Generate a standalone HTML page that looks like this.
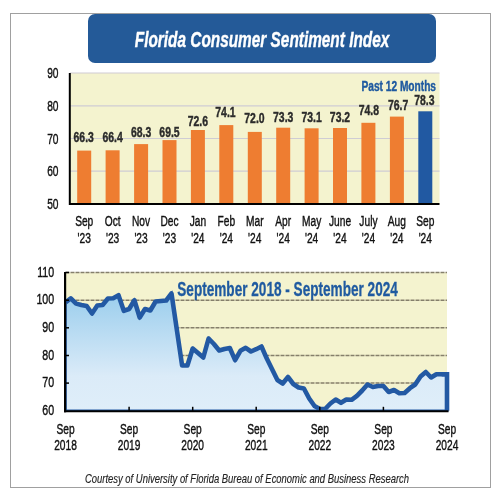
<!DOCTYPE html>
<html><head><meta charset="utf-8"><style>
html,body{margin:0;padding:0;background:#fff;width:500px;height:500px;overflow:hidden}
svg{display:block;will-change:transform}
text{font-family:"Liberation Sans",sans-serif}
</style></head><body>
<svg width="500" height="500" viewBox="0 0 500 500">
<defs>
<linearGradient id="ag" x1="0" y1="272.5" x2="0" y2="410.8" gradientUnits="userSpaceOnUse">
<stop offset="0" stop-color="#8ac6ea"/><stop offset="0.75" stop-color="#dbebf8"/><stop offset="1" stop-color="#dfeef9"/>
</linearGradient>
</defs>
<rect x="10.5" y="13.5" width="480" height="474" fill="#fff" stroke="#a0a0a0" stroke-width="1"/>
<rect x="88" y="14" width="348" height="49" rx="7" ry="7" fill="#245a98"/>
<text x="134.8" y="46.5" font-size="22" font-weight="bold" font-style="italic" fill="#fff" stroke="#fff" stroke-width="0.4" textLength="254.5" lengthAdjust="spacingAndGlyphs">Florida Consumer Sentiment Index</text>
<!-- top chart -->
<rect x="70.0" y="73.0" width="369.5" height="131.0" fill="#f4f3cf"/>
<line x1="70.0" x2="439.5" y1="73.0" y2="73.0" stroke="#cfccd4" stroke-width="1.2"/><line x1="70.0" x2="439.5" y1="105.8" y2="105.8" stroke="#cfccd4" stroke-width="1.2"/><line x1="70.0" x2="439.5" y1="138.5" y2="138.5" stroke="#cfccd4" stroke-width="1.2"/><line x1="70.0" x2="439.5" y1="171.2" y2="171.2" stroke="#cfccd4" stroke-width="1.2"/>
<rect x="77.2" y="150.6" width="14" height="53.4" fill="#ee7d31"/><rect x="105.6" y="150.3" width="14" height="53.7" fill="#ee7d31"/><rect x="134.1" y="144.1" width="14" height="59.9" fill="#ee7d31"/><rect x="162.5" y="140.1" width="14" height="63.9" fill="#ee7d31"/><rect x="190.9" y="130.0" width="14" height="74.0" fill="#ee7d31"/><rect x="219.3" y="125.1" width="14" height="78.9" fill="#ee7d31"/><rect x="247.8" y="131.9" width="14" height="72.1" fill="#ee7d31"/><rect x="276.2" y="127.7" width="14" height="76.3" fill="#ee7d31"/><rect x="304.6" y="128.3" width="14" height="75.7" fill="#ee7d31"/><rect x="333.0" y="128.0" width="14" height="76.0" fill="#ee7d31"/><rect x="361.4" y="122.8" width="14" height="81.2" fill="#ee7d31"/><rect x="389.9" y="116.6" width="14" height="87.4" fill="#ee7d31"/><rect x="418.3" y="111.3" width="14" height="92.7" fill="#2159a2"/>
<line x1="69.8" y1="73.0" x2="69.8" y2="205.0" stroke="#000" stroke-width="2"/>
<line x1="69" y1="204.0" x2="439.5" y2="204.0" stroke="#000" stroke-width="2"/>
<text transform="translate(58.50,78.10) scale(0.69,1)" font-size="14.8" font-weight="normal" font-style="normal" fill="#111" stroke="#111" stroke-width="0.4" text-anchor="end">90</text><text transform="translate(58.50,110.85) scale(0.69,1)" font-size="14.8" font-weight="normal" font-style="normal" fill="#111" stroke="#111" stroke-width="0.4" text-anchor="end">80</text><text transform="translate(58.50,143.60) scale(0.69,1)" font-size="14.8" font-weight="normal" font-style="normal" fill="#111" stroke="#111" stroke-width="0.4" text-anchor="end">70</text><text transform="translate(58.50,176.35) scale(0.69,1)" font-size="14.8" font-weight="normal" font-style="normal" fill="#111" stroke="#111" stroke-width="0.4" text-anchor="end">60</text><text transform="translate(58.50,209.10) scale(0.69,1)" font-size="14.8" font-weight="normal" font-style="normal" fill="#111" stroke="#111" stroke-width="0.4" text-anchor="end">50</text>
<text transform="translate(83.71,142.20) scale(0.72,1)" font-size="14.5" font-weight="bold" font-style="normal" fill="#2b2b2b" stroke="#2b2b2b" stroke-width="0.4" text-anchor="middle">66.3</text><text transform="translate(112.63,142.00) scale(0.72,1)" font-size="14.5" font-weight="bold" font-style="normal" fill="#2b2b2b" stroke="#2b2b2b" stroke-width="0.4" text-anchor="middle">66.4</text><text transform="translate(141.06,136.60) scale(0.72,1)" font-size="14.5" font-weight="bold" font-style="normal" fill="#2b2b2b" stroke="#2b2b2b" stroke-width="0.4" text-anchor="middle">68.3</text><text transform="translate(169.48,136.60) scale(0.72,1)" font-size="14.5" font-weight="bold" font-style="normal" fill="#2b2b2b" stroke="#2b2b2b" stroke-width="0.4" text-anchor="middle">69.5</text><text transform="translate(197.90,126.40) scale(0.72,1)" font-size="14.5" font-weight="bold" font-style="normal" fill="#2b2b2b" stroke="#2b2b2b" stroke-width="0.4" text-anchor="middle">72.6</text><text transform="translate(225.43,117.00) scale(0.72,1)" font-size="14.5" font-weight="bold" font-style="normal" fill="#2b2b2b" stroke="#2b2b2b" stroke-width="0.4" text-anchor="middle">74.1</text><text transform="translate(254.45,123.20) scale(0.72,1)" font-size="14.5" font-weight="bold" font-style="normal" fill="#2b2b2b" stroke="#2b2b2b" stroke-width="0.4" text-anchor="middle">72.0</text><text transform="translate(283.17,122.00) scale(0.72,1)" font-size="14.5" font-weight="bold" font-style="normal" fill="#2b2b2b" stroke="#2b2b2b" stroke-width="0.4" text-anchor="middle">73.3</text><text transform="translate(311.60,122.00) scale(0.72,1)" font-size="14.5" font-weight="bold" font-style="normal" fill="#2b2b2b" stroke="#2b2b2b" stroke-width="0.4" text-anchor="middle">73.1</text><text transform="translate(340.02,121.50) scale(0.72,1)" font-size="14.5" font-weight="bold" font-style="normal" fill="#2b2b2b" stroke="#2b2b2b" stroke-width="0.4" text-anchor="middle">73.2</text><text transform="translate(368.84,115.40) scale(0.72,1)" font-size="14.5" font-weight="bold" font-style="normal" fill="#2b2b2b" stroke="#2b2b2b" stroke-width="0.4" text-anchor="middle">74.8</text><text transform="translate(398.07,109.80) scale(0.72,1)" font-size="14.5" font-weight="bold" font-style="normal" fill="#2b2b2b" stroke="#2b2b2b" stroke-width="0.4" text-anchor="middle">76.7</text><text transform="translate(424.39,104.70) scale(0.72,1)" font-size="14.5" font-weight="bold" font-style="normal" fill="#2b2b2b" stroke="#2b2b2b" stroke-width="0.4" text-anchor="middle">78.3</text>
<text transform="translate(84.21,225.80) scale(0.69,1)" font-size="14.8" font-weight="normal" font-style="normal" fill="#111" stroke="#111" stroke-width="0.4" text-anchor="middle">Sep</text><text transform="translate(84.21,242.80) scale(0.69,1)" font-size="14.8" font-weight="normal" font-style="normal" fill="#111" stroke="#111" stroke-width="0.4" text-anchor="middle">'23</text><text transform="translate(112.63,225.80) scale(0.69,1)" font-size="14.8" font-weight="normal" font-style="normal" fill="#111" stroke="#111" stroke-width="0.4" text-anchor="middle">Oct</text><text transform="translate(112.63,242.80) scale(0.69,1)" font-size="14.8" font-weight="normal" font-style="normal" fill="#111" stroke="#111" stroke-width="0.4" text-anchor="middle">'23</text><text transform="translate(141.06,225.80) scale(0.69,1)" font-size="14.8" font-weight="normal" font-style="normal" fill="#111" stroke="#111" stroke-width="0.4" text-anchor="middle">Nov</text><text transform="translate(141.06,242.80) scale(0.69,1)" font-size="14.8" font-weight="normal" font-style="normal" fill="#111" stroke="#111" stroke-width="0.4" text-anchor="middle">'23</text><text transform="translate(169.48,225.80) scale(0.69,1)" font-size="14.8" font-weight="normal" font-style="normal" fill="#111" stroke="#111" stroke-width="0.4" text-anchor="middle">Dec</text><text transform="translate(169.48,242.80) scale(0.69,1)" font-size="14.8" font-weight="normal" font-style="normal" fill="#111" stroke="#111" stroke-width="0.4" text-anchor="middle">'23</text><text transform="translate(197.90,225.80) scale(0.69,1)" font-size="14.8" font-weight="normal" font-style="normal" fill="#111" stroke="#111" stroke-width="0.4" text-anchor="middle">Jan</text><text transform="translate(197.90,242.80) scale(0.69,1)" font-size="14.8" font-weight="normal" font-style="normal" fill="#111" stroke="#111" stroke-width="0.4" text-anchor="middle">'24</text><text transform="translate(226.33,225.80) scale(0.69,1)" font-size="14.8" font-weight="normal" font-style="normal" fill="#111" stroke="#111" stroke-width="0.4" text-anchor="middle">Feb</text><text transform="translate(226.33,242.80) scale(0.69,1)" font-size="14.8" font-weight="normal" font-style="normal" fill="#111" stroke="#111" stroke-width="0.4" text-anchor="middle">'24</text><text transform="translate(254.75,225.80) scale(0.69,1)" font-size="14.8" font-weight="normal" font-style="normal" fill="#111" stroke="#111" stroke-width="0.4" text-anchor="middle">Mar</text><text transform="translate(254.75,242.80) scale(0.69,1)" font-size="14.8" font-weight="normal" font-style="normal" fill="#111" stroke="#111" stroke-width="0.4" text-anchor="middle">'24</text><text transform="translate(283.17,225.80) scale(0.69,1)" font-size="14.8" font-weight="normal" font-style="normal" fill="#111" stroke="#111" stroke-width="0.4" text-anchor="middle">Apr</text><text transform="translate(283.17,242.80) scale(0.69,1)" font-size="14.8" font-weight="normal" font-style="normal" fill="#111" stroke="#111" stroke-width="0.4" text-anchor="middle">'24</text><text transform="translate(311.60,225.80) scale(0.69,1)" font-size="14.8" font-weight="normal" font-style="normal" fill="#111" stroke="#111" stroke-width="0.4" text-anchor="middle">May</text><text transform="translate(311.60,242.80) scale(0.69,1)" font-size="14.8" font-weight="normal" font-style="normal" fill="#111" stroke="#111" stroke-width="0.4" text-anchor="middle">'24</text><text transform="translate(340.02,225.80) scale(0.69,1)" font-size="14.8" font-weight="normal" font-style="normal" fill="#111" stroke="#111" stroke-width="0.4" text-anchor="middle">June</text><text transform="translate(340.02,242.80) scale(0.69,1)" font-size="14.8" font-weight="normal" font-style="normal" fill="#111" stroke="#111" stroke-width="0.4" text-anchor="middle">'24</text><text transform="translate(368.44,225.80) scale(0.69,1)" font-size="14.8" font-weight="normal" font-style="normal" fill="#111" stroke="#111" stroke-width="0.4" text-anchor="middle">July</text><text transform="translate(368.44,242.80) scale(0.69,1)" font-size="14.8" font-weight="normal" font-style="normal" fill="#111" stroke="#111" stroke-width="0.4" text-anchor="middle">'24</text><text transform="translate(396.87,225.80) scale(0.69,1)" font-size="14.8" font-weight="normal" font-style="normal" fill="#111" stroke="#111" stroke-width="0.4" text-anchor="middle">Aug</text><text transform="translate(396.87,242.80) scale(0.69,1)" font-size="14.8" font-weight="normal" font-style="normal" fill="#111" stroke="#111" stroke-width="0.4" text-anchor="middle">'24</text><text transform="translate(425.29,225.80) scale(0.69,1)" font-size="14.8" font-weight="normal" font-style="normal" fill="#111" stroke="#111" stroke-width="0.4" text-anchor="middle">Sep</text><text transform="translate(425.29,242.80) scale(0.69,1)" font-size="14.8" font-weight="normal" font-style="normal" fill="#111" stroke="#111" stroke-width="0.4" text-anchor="middle">'24</text>
<text x="361.5" y="91" font-size="14" font-weight="bold" fill="#1f5aa0" stroke="#1f5aa0" stroke-width="0.4" textLength="74.5" lengthAdjust="spacingAndGlyphs">Past 12 Months</text>
<!-- bottom chart -->
<rect x="65.5" y="272.5" width="381.5" height="138.3" fill="#f4f3cf"/>
<line x1="65.5" x2="447" y1="272.5" y2="272.5" stroke="#857f6b" stroke-width="1.5" stroke-dasharray="4,1"/><line x1="65.5" x2="447" y1="300.2" y2="300.2" stroke="#857f6b" stroke-width="1.5" stroke-dasharray="4,1"/><line x1="65.5" x2="447" y1="327.8" y2="327.8" stroke="#857f6b" stroke-width="1.5" stroke-dasharray="4,1"/><line x1="65.5" x2="447" y1="355.5" y2="355.5" stroke="#857f6b" stroke-width="1.5" stroke-dasharray="4,1"/><line x1="65.5" x2="447" y1="383.1" y2="383.1" stroke="#857f6b" stroke-width="1.5" stroke-dasharray="4,1"/>
<path d="M65.5,410.8 L65.5,302.5 L70.8,298.3 L76.1,303.6 L81.4,305.0 L86.7,306.0 L92.0,313.5 L97.3,305.5 L102.6,305.0 L107.9,298.5 L113.2,298.2 L118.5,295.2 L123.8,310.8 L129.1,309.0 L134.4,300.3 L139.7,317.5 L145.0,309.0 L150.3,310.5 L155.6,301.5 L160.9,301.0 L166.2,300.5 L171.5,293.5 L176.8,329.5 L182.1,365.5 L187.4,365.5 L192.7,348.5 L198.0,353.0 L203.3,357.5 L208.6,338.5 L213.9,344.0 L219.2,350.5 L224.5,349.0 L229.8,348.0 L235.1,360.2 L240.4,350.8 L245.7,347.8 L251.0,351.5 L256.2,349.2 L261.5,346.5 L266.8,358.6 L272.1,369.3 L277.4,380.0 L282.7,383.5 L288.0,377.0 L293.3,384.0 L298.6,387.5 L303.9,388.5 L309.2,398.5 L314.5,406.0 L319.8,409.0 L325.1,409.0 L330.4,403.5 L335.7,399.5 L341.0,402.8 L346.3,399.5 L351.6,399.8 L356.9,395.8 L362.2,390.5 L367.5,384.5 L372.8,387.0 L378.1,386.0 L383.4,386.0 L388.7,392.0 L394.0,390.0 L399.3,393.3 L404.6,393.0 L409.9,388.2 L415.2,384.5 L420.5,376.5 L425.8,372.0 L431.1,377.5 L436.4,374.2 L441.7,374.2 L447.0,374.2 L447.0,410.8 Z" fill="url(#ag)" stroke="#2359a3" stroke-width="2.6"/>
<polyline points="65.5,302.5 70.8,298.3 76.1,303.6 81.4,305.0 86.7,306.0 92.0,313.5 97.3,305.5 102.6,305.0 107.9,298.5 113.2,298.2 118.5,295.2 123.8,310.8 129.1,309.0 134.4,300.3 139.7,317.5 145.0,309.0 150.3,310.5 155.6,301.5 160.9,301.0 166.2,300.5 171.5,293.5 176.8,329.5 182.1,365.5 187.4,365.5 192.7,348.5 198.0,353.0 203.3,357.5 208.6,338.5 213.9,344.0 219.2,350.5 224.5,349.0 229.8,348.0 235.1,360.2 240.4,350.8 245.7,347.8 251.0,351.5 256.2,349.2 261.5,346.5 266.8,358.6 272.1,369.3 277.4,380.0 282.7,383.5 288.0,377.0 293.3,384.0 298.6,387.5 303.9,388.5 309.2,398.5 314.5,406.0 319.8,409.0 325.1,409.0 330.4,403.5 335.7,399.5 341.0,402.8 346.3,399.5 351.6,399.8 356.9,395.8 362.2,390.5 367.5,384.5 372.8,387.0 378.1,386.0 383.4,386.0 388.7,392.0 394.0,390.0 399.3,393.3 404.6,393.0 409.9,388.2 415.2,384.5 420.5,376.5 425.8,372.0 431.1,377.5 436.4,374.2 441.7,374.2 447.0,374.2" fill="none" stroke="#2359a3" stroke-width="4.6" stroke-linejoin="round"/>
<polyline points="441.7,374.2 447.0,374.2 447.0,410.8" fill="none" stroke="#2359a3" stroke-width="4.6" stroke-linejoin="miter"/>
<line x1="65.1" y1="272.0" x2="65.1" y2="412.3" stroke="#000" stroke-width="2.2"/>
<line x1="64" y1="411.3" x2="448.5" y2="411.3" stroke="#000" stroke-width="2"/>
<line x1="65.5" x2="69.0" y1="272.5" y2="272.5" stroke="#000" stroke-width="1.5"/><line x1="65.5" x2="69.0" y1="300.2" y2="300.2" stroke="#000" stroke-width="1.5"/><line x1="65.5" x2="69.0" y1="327.8" y2="327.8" stroke="#000" stroke-width="1.5"/><line x1="65.5" x2="69.0" y1="355.5" y2="355.5" stroke="#000" stroke-width="1.5"/><line x1="65.5" x2="69.0" y1="383.1" y2="383.1" stroke="#000" stroke-width="1.5"/>
<line x1="129.1" x2="129.1" y1="410.8" y2="406.8" stroke="#000" stroke-width="1.5"/><line x1="192.7" x2="192.7" y1="410.8" y2="406.8" stroke="#000" stroke-width="1.5"/><line x1="256.2" x2="256.2" y1="410.8" y2="406.8" stroke="#000" stroke-width="1.5"/><line x1="319.8" x2="319.8" y1="410.8" y2="406.8" stroke="#000" stroke-width="1.5"/><line x1="383.4" x2="383.4" y1="410.8" y2="406.8" stroke="#000" stroke-width="1.5"/>
<text transform="translate(54.20,276.80) scale(0.72,1)" font-size="14.8" font-weight="normal" font-style="normal" fill="#111" stroke="#111" stroke-width="0.4" text-anchor="end">110</text><text transform="translate(54.20,304.46) scale(0.72,1)" font-size="14.8" font-weight="normal" font-style="normal" fill="#111" stroke="#111" stroke-width="0.4" text-anchor="end">100</text><text transform="translate(54.20,332.12) scale(0.72,1)" font-size="14.8" font-weight="normal" font-style="normal" fill="#111" stroke="#111" stroke-width="0.4" text-anchor="end">90</text><text transform="translate(54.20,359.78) scale(0.72,1)" font-size="14.8" font-weight="normal" font-style="normal" fill="#111" stroke="#111" stroke-width="0.4" text-anchor="end">80</text><text transform="translate(54.20,387.44) scale(0.72,1)" font-size="14.8" font-weight="normal" font-style="normal" fill="#111" stroke="#111" stroke-width="0.4" text-anchor="end">70</text><text transform="translate(54.20,415.10) scale(0.72,1)" font-size="14.8" font-weight="normal" font-style="normal" fill="#111" stroke="#111" stroke-width="0.4" text-anchor="end">60</text>
<text transform="translate(65.50,433.50) scale(0.69,1)" font-size="14.8" font-weight="normal" font-style="normal" fill="#111" stroke="#111" stroke-width="0.4" text-anchor="middle">Sep</text><text transform="translate(65.50,450.30) scale(0.69,1)" font-size="14.8" font-weight="normal" font-style="normal" fill="#111" stroke="#111" stroke-width="0.4" text-anchor="middle">2018</text><text transform="translate(129.08,433.50) scale(0.69,1)" font-size="14.8" font-weight="normal" font-style="normal" fill="#111" stroke="#111" stroke-width="0.4" text-anchor="middle">Sep</text><text transform="translate(129.08,450.30) scale(0.69,1)" font-size="14.8" font-weight="normal" font-style="normal" fill="#111" stroke="#111" stroke-width="0.4" text-anchor="middle">2019</text><text transform="translate(192.67,433.50) scale(0.69,1)" font-size="14.8" font-weight="normal" font-style="normal" fill="#111" stroke="#111" stroke-width="0.4" text-anchor="middle">Sep</text><text transform="translate(192.67,450.30) scale(0.69,1)" font-size="14.8" font-weight="normal" font-style="normal" fill="#111" stroke="#111" stroke-width="0.4" text-anchor="middle">2020</text><text transform="translate(256.25,433.50) scale(0.69,1)" font-size="14.8" font-weight="normal" font-style="normal" fill="#111" stroke="#111" stroke-width="0.4" text-anchor="middle">Sep</text><text transform="translate(256.25,450.30) scale(0.69,1)" font-size="14.8" font-weight="normal" font-style="normal" fill="#111" stroke="#111" stroke-width="0.4" text-anchor="middle">2021</text><text transform="translate(319.83,433.50) scale(0.69,1)" font-size="14.8" font-weight="normal" font-style="normal" fill="#111" stroke="#111" stroke-width="0.4" text-anchor="middle">Sep</text><text transform="translate(319.83,450.30) scale(0.69,1)" font-size="14.8" font-weight="normal" font-style="normal" fill="#111" stroke="#111" stroke-width="0.4" text-anchor="middle">2022</text><text transform="translate(383.42,433.50) scale(0.69,1)" font-size="14.8" font-weight="normal" font-style="normal" fill="#111" stroke="#111" stroke-width="0.4" text-anchor="middle">Sep</text><text transform="translate(383.42,450.30) scale(0.69,1)" font-size="14.8" font-weight="normal" font-style="normal" fill="#111" stroke="#111" stroke-width="0.4" text-anchor="middle">2023</text><text transform="translate(447.00,433.50) scale(0.69,1)" font-size="14.8" font-weight="normal" font-style="normal" fill="#111" stroke="#111" stroke-width="0.4" text-anchor="middle">Sep</text><text transform="translate(447.00,450.30) scale(0.69,1)" font-size="14.8" font-weight="normal" font-style="normal" fill="#111" stroke="#111" stroke-width="0.4" text-anchor="middle">2024</text>
<text x="177.3" y="296.3" font-size="19.8" font-weight="bold" fill="#1f5aa0" stroke="#1f5aa0" stroke-width="0.3" textLength="220.5" lengthAdjust="spacingAndGlyphs">September 2018 - September 2024</text>
<text x="85" y="483" font-size="12.8" font-style="italic" fill="#222" stroke="#222" stroke-width="0.15" textLength="324" lengthAdjust="spacingAndGlyphs">Courtesy of University of Florida Bureau of Economic and Business Research</text>
</svg>
</body></html>
